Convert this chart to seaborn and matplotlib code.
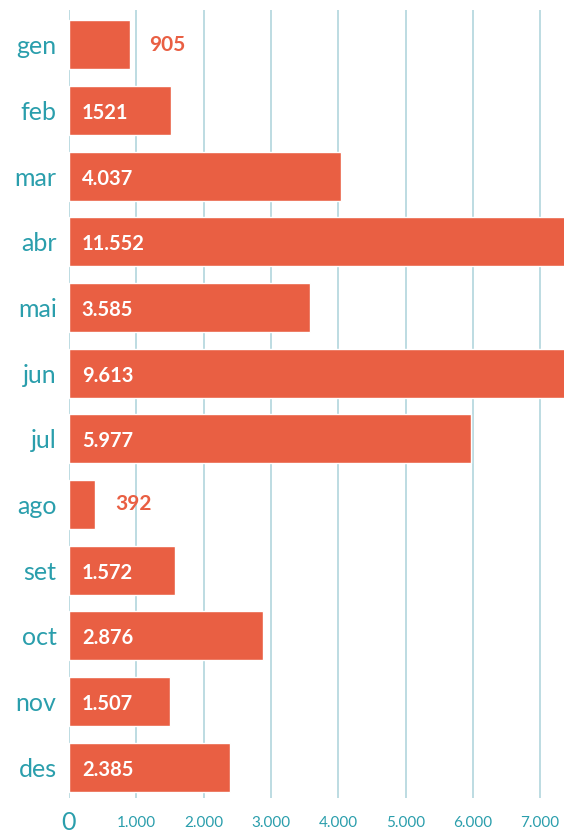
import matplotlib
matplotlib.use("Agg")
import matplotlib.pyplot as plt
import seaborn as sns
import pandas as pd

meses = ['gen', 'feb', 'mar', 'abr', 'mai', 'jun', 'jul', 'ago', 'set', 'oct', 'nov', 'des']
valors = [905, 1521, 4037, 11552, 3585, 9613, 5977, 392, 1572, 2876, 1507, 2385]
etiquetes = ['905', '1521', '4.037', '11.552', '3.585', '9.613', '5.977', '392',
             '1.572', '2.876', '1.507', '2.385']
ticks_x = [0, 1000, 2000, 3000, 4000, 5000, 6000, 7000]
ticks_lbl = ['0', '1.000', '2.000', '3.000', '4.000', '5.000', '6.000', '7.000']

CORAL = '#e95f43'
TEAL = '#2a9eac'
GRID = '#b7d9df'

sns.set_theme(style="white")
plt.rcParams['font.family'] = ['Lato', 'DejaVu Sans']

df = pd.DataFrame({'mes': meses, 'valor': valors})

fig = plt.figure(figsize=(5.64, 8.35), dpi=100)
ax = fig.add_axes([69 / 564, 1 - 798 / 835, 1 - 69 / 564, 788 / 835])
sns.barplot(data=df, y='mes', x='valor', orient='h', color=CORAL, saturation=1,
            width=0.75, ax=ax, zorder=2)

ax.set_xlim(0, 7355)
ax.set_ylim(11.47, -0.53)
ax.set_xticks(ticks_x)
ax.set_xticklabels(ticks_lbl)
for lbl in ax.get_xticklabels():
    lbl.set_fontsize(18 if lbl.get_text() == '0' else 11)
    lbl.set_color(TEAL)
    lbl.set_verticalalignment('center')
ax.tick_params(axis='x', length=0, pad=18)
ax.tick_params(axis='y', length=0, pad=9, labelsize=18, labelcolor=TEAL)
ax.xaxis.grid(True, color=GRID, linewidth=1.3, zorder=0)
ax.set_axisbelow(True)
for s in ax.spines.values():
    s.set_visible(False)
ax.set_xlabel('')
ax.set_ylabel('')

for i, (v, t) in enumerate(zip(valors, etiquetes)):
    if v < 1000:
        ax.text(v + 290, i, t, color=CORAL, fontsize=15, fontweight='bold',
                va='center', ha='left')
    else:
        ax.text(190, i + 0.04, t, color='white', fontsize=14.5, fontweight='bold',
                va='center', ha='left')

fig.savefig('out.png', dpi=100)
